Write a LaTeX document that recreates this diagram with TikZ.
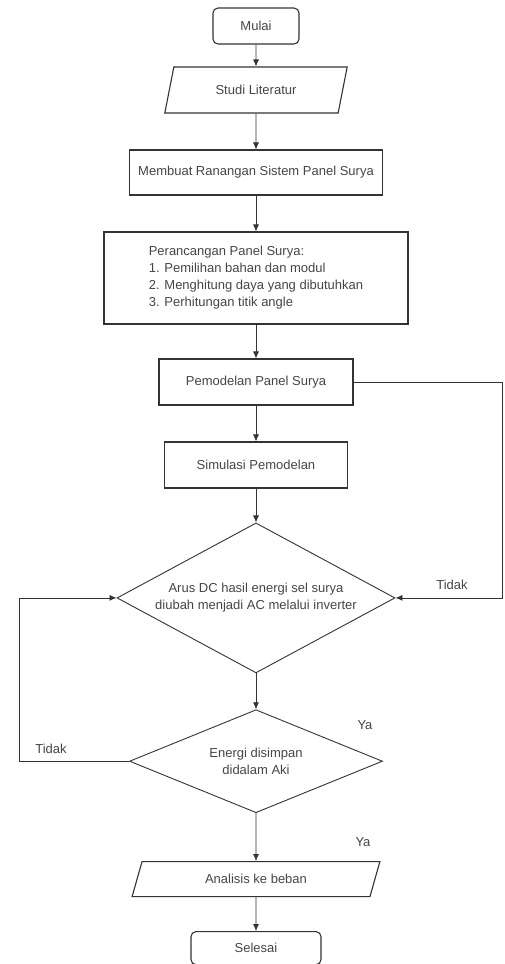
\documentclass[tikz,border=0pt]{standalone}
\usepackage{fontspec}
\setmainfont{Liberation Sans}
\usepackage{xcolor}
\usetikzlibrary{arrows.meta,positioning,shapes.geometric}
\definecolor{garis}{HTML}{333333}
\definecolor{teks}{HTML}{454545}

\begin{document}
\begin{tikzpicture}[x=1pt,y=1pt,>={Latex[length=7pt,width=6pt]}]
\tikzstyle{proses}=[draw=garis,line width=1.1pt,align=center,text=teks,inner sep=0pt,font=\fontsize{13}{17}\selectfont]
\tikzstyle{terminal}=[proses,rounded corners=5pt]
\tikzstyle{io}=[proses,trapezium,trapezium left angle=65,trapezium right angle=115,trapezium stretches=true]
\tikzstyle{keputusan}=[proses,diamond,line width=0.9pt]
\tikzstyle{label}=[text=teks,font=\fontsize{13}{17}\selectfont,inner sep=1pt]
\tikzstyle{panah}=[->,draw=garis,line width=0.8pt]
\useasboundingbox (0,0) rectangle (504,-964);
\node[terminal,minimum width=86pt,minimum height=36pt] (mulai) at (256,-26) {Mulai};
\node[io,below=21.9pt of mulai,minimum width=183pt,minimum height=46pt] (studi) {Studi Literatur};
\node[proses,below=35.9pt of studi,minimum width=253pt,minimum height=45pt] (rancangan) {Membuat Ranangan Sistem Panel Surya};
\node[proses,below=35.9pt of rancangan,minimum width=304pt,minimum height=92pt,align=left] (perancangan) {Perancangan Panel Surya:\\1. Pemilihan bahan dan modul\\2. Menghitung daya yang dibutuhkan\\3. Perhitungan titik angle};
\node[proses,below=33.9pt of perancangan,minimum width=194pt,minimum height=46pt] (pemodelan) {Pemodelan Panel Surya};
\node[proses,below=35.9pt of pemodelan,minimum width=183pt,minimum height=46pt] (simulasi) {Simulasi Pemodelan};
\node[keputusan,below=33.9pt of simulasi,aspect=1.85,minimum width=278pt,minimum height=150pt] (inverter) {Arus DC hasil energi sel surya\\diubah menjadi AC melalui inverter};
\node[keputusan,below=35.9pt of inverter,aspect=2.45,minimum width=253pt,minimum height=103pt] (aki) {Energi disimpan\\didalam Aki};
\node[io,below=47.9pt of aki,minimum width=248pt,minimum height=35pt] (analisis) {Analisis ke beban};
\node[terminal,below=33.9pt of analisis,minimum width=130pt,minimum height=33pt] (selesai) {Selesai};
% label jalur
\node[label] (tidakkanan) at (452,-585) {Tidak};
\node[label] (tidakkiri) at (51,-749) {Tidak};
\node[label] (ya1) at (365,-725) {Ya};
\node[label] (ya2) at (363,-842) {Ya};
\coordinate (kanan) at (502,0);
\coordinate (kiri) at (19,0);
\draw[panah] (mulai)--(studi);
\draw[panah] (studi)--(rancangan);
\draw[panah] (rancangan)--(perancangan);
\draw[panah] (perancangan)--(pemodelan);
\draw[panah] (pemodelan)--(simulasi);
\draw[panah] (simulasi)--(inverter);
\draw[panah] (inverter)--(aki);
\draw[panah] (aki)--(analisis);
\draw[panah] (analisis)--(selesai);
\draw[panah] (pemodelan.east)--(pemodelan.east-|kanan)|-(inverter.east);
\draw[panah] (aki.west)--(aki.west-|kiri)|-(inverter.west);
\end{tikzpicture}
\end{document}
